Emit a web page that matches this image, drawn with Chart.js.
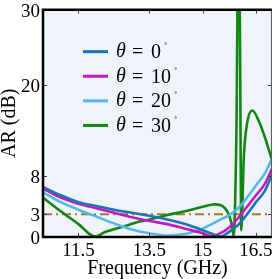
<!DOCTYPE html>
<html>
<head>
<meta charset="utf-8">
<script src="https://cdn.jsdelivr.net/npm/chart.js@4.4.1/dist/chart.umd.min.js"></script>
<style>
  html, body { margin: 0; padding: 0; background: #fff; }
  #wrap { width: 278px; height: 279px; }
</style>
</head>
<body>
<div id="wrap"><canvas id="grafico"></canvas></div>
<script>
// Datos (frecuencia en GHz, AR en dB)
const freq = [10.5, 11, 11.5, 12, 12.5, 13, 13.5, 14, 14.5, 15, 15.25, 15.5, 15.75, 16, 16.25, 16.5, 16.75, 16.95];
const ar0  = [6.6, 5.5, 4.6, 4.1, 3.6, 3.2, 2.8, 2.3, 1.7, 0.9, 0.45, 0.05, 0.7, 1.6, 3.0, 4.6, 6.1, 8.2];
const ar10 = [6.4, 5.2, 4.4, 3.8, 3.2, 2.6, 2.1, 1.7, 1.1, 0.5, 0.1, 0.5, 1.3, 2.5, 4.0, 5.5, 7.0, 9.0];
const ar20 = [5.9, 4.6, 3.6, 2.7, 1.8, 1.0, 0.5, 0.2, 0.4, 1.1, 1.7, 2.3, 2.9, 3.8, 5.2, 6.8, 8.4, 10.3];

const freq30 = [10.5, 11, 11.5, 11.97, 12.25, 12.75, 13.2, 13.5, 14, 14.5, 15, 15.35, 15.55, 15.7, 15.8, 15.87,
                15.95, 15.99, 16.04, 16.065, 16.085, 16.16, 16.25, 16.4, 16.58, 16.77, 16.96];
const ar30   = [5.2, 3.4, 1.7, 0.05, 0.65, 1.35, 2.0, 2.3, 2.9, 3.4, 4.0, 4.3, 4.1, 3.3, 2.0, 0.2,
                14, 33, 33, 14, 0.9, 10.7, 15.0, 16.7, 15.3, 12.9, 10.0];

const angulos = [0, 10, 20, 30];
const colores = ['#2171b5', '#c21bbf', '#55b9ea', '#138513'];
const limiteAR = 3;
const xTicks = [11.5, 13.5, 15, 16.5];
const yTicks = [0, 3, 8, 20, 30];

const serie = (xs, ys) => xs.map((x, i) => ({ x: x, y: ys[i] }));
const series = [serie(freq, ar0), serie(freq, ar10), serie(freq, ar20), serie(freq30, ar30)];

// Fondo, marco y marcas hacia dentro
const marcoPlugin = {
  id: 'marco',
  beforeDatasetsDraw(chart) {
    const { ctx, chartArea: a } = chart;
    ctx.save();
    ctx.fillStyle = '#eef4fa';
    ctx.fillRect(a.left, a.top, a.right - a.left, a.bottom - a.top);
    ctx.restore();
  },
  afterDatasetsDraw(chart) {
    const { ctx, chartArea: a, scales } = chart;
    ctx.save();
    ctx.strokeStyle = '#444';
    ctx.lineWidth = 1;
    xTicks.forEach(v => {
      const px = Math.round(scales.x.getPixelForValue(v)) + 0.5;
      ctx.beginPath();
      ctx.moveTo(px, a.bottom); ctx.lineTo(px, a.bottom - 4);
      ctx.moveTo(px, a.top); ctx.lineTo(px, a.top + 4);
      ctx.stroke();
    });
    yTicks.forEach(v => {
      const py = Math.round(scales.y.getPixelForValue(v)) + 0.5;
      ctx.beginPath();
      ctx.moveTo(a.left, py); ctx.lineTo(a.left + 4, py);
      ctx.moveTo(a.right, py); ctx.lineTo(a.right - 4, py);
      ctx.stroke();
    });
    ctx.strokeStyle = '#555';
    ctx.beginPath();
    ctx.moveTo(a.right - 0.5, a.top); ctx.lineTo(a.right - 0.5, a.bottom);
    ctx.stroke();
    ctx.strokeStyle = '#000';
    ctx.lineWidth = 2.5;
    ctx.beginPath();
    ctx.moveTo(a.right, a.top);
    ctx.lineTo(a.left, a.top);
    ctx.lineTo(a.left, a.bottom);
    ctx.lineTo(a.right, a.bottom);
    ctx.stroke();
    ctx.restore();
  },
  afterDraw(chart) {
    // Leyenda dentro del área
    const { ctx, chartArea: a } = chart;
    ctx.save();
    angulos.forEach((ang, i) => {
      const y = a.top + 42 + i * 24.6;
      ctx.strokeStyle = colores[i];
      ctx.lineWidth = 3;
      ctx.beginPath();
      ctx.moveTo(a.left + 40, y); ctx.lineTo(a.left + 65, y);
      ctx.stroke();
      ctx.fillStyle = '#000';
      ctx.textBaseline = 'middle';
      ctx.font = 'italic 20px "Liberation Serif", serif';
      ctx.fillText('θ', a.left + 73, y);
      ctx.font = '20px "Liberation Serif", serif';
      ctx.fillText('=', a.left + 89, y + 1);
      ctx.fillText(String(ang), a.left + 108, y + 1);
      const w = ctx.measureText(String(ang)).width;
      ctx.font = '10px "Liberation Serif", serif';
      ctx.fillText('˚', a.left + 108 + w + 3, y - 4);
    });
    ctx.restore();
  }
};

new Chart(document.getElementById('grafico'), {
  type: 'line',
  data: {
    datasets: [
      ...series.map((d, i) => ({
        label: 'θ = ' + angulos[i] + '˚',
        data: d,
        borderColor: colores[i],
        borderWidth: 2.6,
        pointRadius: 0,
        fill: false,
        cubicInterpolationMode: 'monotone'
      })),
      {
        label: 'AR = 3 dB',
        data: [{ x: 10.5, y: limiteAR }, { x: 16.95, y: limiteAR }],
        borderColor: '#9c7c2c',
        borderWidth: 2.2,
        borderDash: [9, 4, 2, 4],
        pointRadius: 0,
        fill: false
      }
    ]
  },
  options: {
    responsive: true,
    maintainAspectRatio: false,
    animation: false,
    layout: { padding: { top: 7, right: 6, left: 0, bottom: 0 } },
    plugins: {
      legend: { display: false },
      tooltip: { enabled: false }
    },
    scales: {
      x: {
        type: 'linear',
        min: 10.5,
        max: 16.95,
        afterBuildTicks: s => { s.ticks = xTicks.map(v => ({ value: v })); },
        afterFit: s => { s.height = 42; },
        grid: { display: false, drawTicks: false },
        border: { display: false },
        ticks: {
          autoSkip: false,
          maxRotation: 0,
          padding: 5,
          color: '#000',
          font: { family: '"Liberation Serif", serif', size: 19, lineHeight: 1 },
          callback: v => String(v)
        },
        title: {
          display: true,
          text: 'Frequency (GHz)',
          color: '#000',
          padding: 0,
          font: { family: '"Liberation Serif", serif', size: 20, lineHeight: 1 }
        }
      },
      y: {
        min: 0,
        max: 30,
        afterBuildTicks: s => { s.ticks = yTicks.map(v => ({ value: v })); },
        afterFit: s => { s.width = 43; },
        grid: { display: false, drawTicks: false },
        border: { display: false },
        ticks: {
          autoSkip: false,
          padding: 3,
          labelOffset: 2,
          color: '#000',
          font: { family: '"Liberation Serif", serif', size: 19, lineHeight: 0.7 },
          callback: v => String(v)
        },
        title: {
          display: true,
          text: 'AR (dB)',
          color: '#000',
          padding: 0,
          font: { family: '"Liberation Serif", serif', size: 20, lineHeight: 1 }
        }
      }
    }
  },
  plugins: [marcoPlugin]
});
</script>
</body>
</html>
